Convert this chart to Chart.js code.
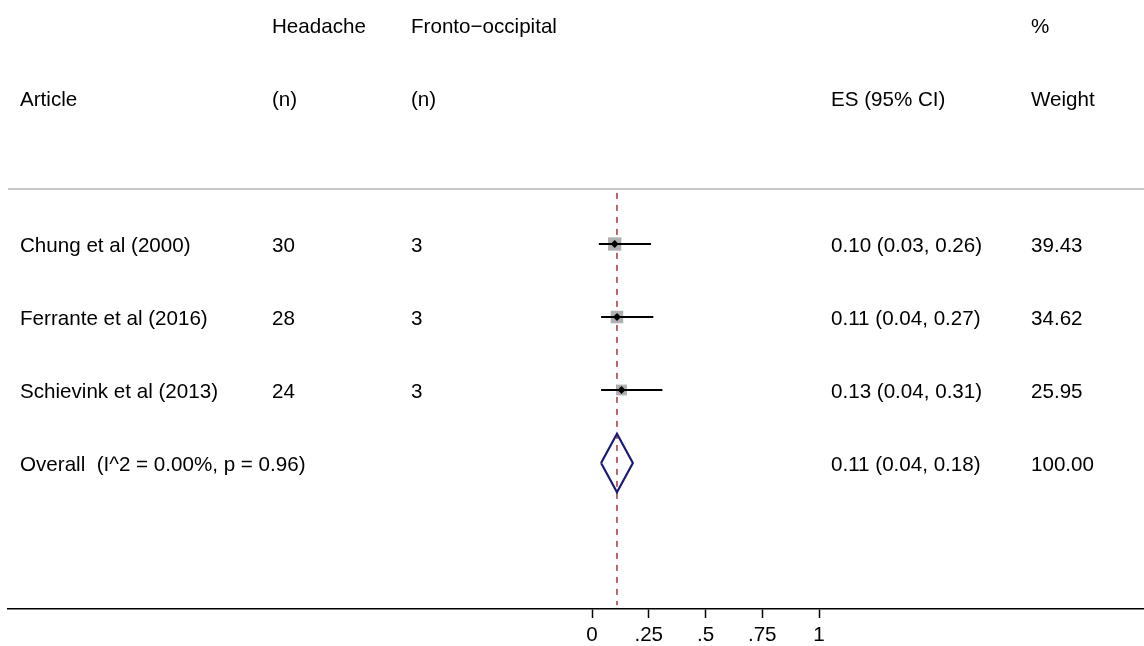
<!DOCTYPE html>
<html>
<head>
<meta charset="utf-8">
<script src="https://cdn.jsdelivr.net/npm/chart.js@4/dist/chart.umd.min.js"></script>
<style>
  html, body { margin: 0; padding: 0; background: #fff; overflow: hidden; }
  #wrap { width: 1144px; height: 646px; }
  canvas { display: block; }
</style>
</head>
<body>
<div id="wrap"><canvas id="forest"></canvas></div>
<script>
// study data
const studies = ['Chung et al (2000)', 'Ferrante et al (2016)', 'Schievink et al (2013)'];
const headacheN = [30, 28, 24];
const frontoN = [3, 3, 3];
const es = [0.10, 0.11, 0.13];
const lower = [0.03, 0.04, 0.04];
const upper = [0.26, 0.27, 0.31];
const weights = [39.43, 34.62, 25.95];

const overallLabel = 'Overall  (I^2 = 0.00%, p = 0.96)';
const overallEs = 0.11;
const overallLower = 0.04;
const overallUpper = 0.18;
const overallWeight = 100.00;

const tickValues = [0, 0.25, 0.5, 0.75, 1];
const tickLabels = ['0', '.25', '.5', '.75', '1'];

// rows: 0,1 header, 3.. studies, overall after
const firstRow = 3;
const overallRow = firstRow + studies.length;

const fmt = v => v.toFixed(2);
const esText = (e, l, u) => `${fmt(e)} (${fmt(l)}, ${fmt(u)})`;

const fontFamily = '"Liberation Sans", Arial, Helvetica, sans-serif';

// text columns (pixel x of left edge)
const columns = { article: 20, headache: 272, fronto: 411, es: 831, weight: 1031 };

const textPlugin = {
    id: 'forestText',
    afterDraw(chart) {
        const ctx = chart.ctx;
        const y = chart.scales.y;
        ctx.save();
        ctx.fillStyle = '#000';
        ctx.font = `20.6px ${fontFamily}`;
        ctx.textBaseline = 'alphabetic';
        ctx.textAlign = 'left';
        // center of cap height on the row
        const put = (txt, col, row) => ctx.fillText(txt, columns[col], y.getPixelForValue(row) + 7.5);

        put('Headache', 'headache', 0);
        put('Fronto\u2212occipital', 'fronto', 0);
        put('%', 'weight', 0);
        put('Article', 'article', 1);
        put('(n)', 'headache', 1);
        put('(n)', 'fronto', 1);
        put('ES (95% CI)', 'es', 1);
        put('Weight', 'weight', 1);

        studies.forEach((s, i) => {
            const r = firstRow + i;
            put(s, 'article', r);
            put(String(headacheN[i]), 'headache', r);
            put(String(frontoN[i]), 'fronto', r);
            put(esText(es[i], lower[i], upper[i]), 'es', r);
            put(fmt(weights[i]), 'weight', r);
        });
        put(overallLabel, 'article', overallRow);
        put(esText(overallEs, overallLower, overallUpper), 'es', overallRow);
        put(fmt(overallWeight), 'weight', overallRow);
        ctx.restore();
    }
};

// x scale: 0 -> 592px, 1 -> 819px over a 8..1144 chart area
const pxPerUnit = 227;
const xMin = (8 - 592) / pxPerUnit;
const xMax = (1144 - 592) / pxPerUnit;
// y scale: rows, row 0 at 25px, 73px per row, axis at row 8
const yMin = -25 / 73;
const yMax = 8;

const datasets = [];

// separator line under header
datasets.push({
    type: 'line',
    data: [{ x: xMin, y: 2.245 }, { x: xMax, y: 2.245 }],
    borderColor: '#c8c8c8',
    borderWidth: 2,
    pointRadius: 0,
    order: 5
});

// reference line at overall estimate
datasets.push({
    type: 'line',
    data: [{ x: overallEs, y: 2.3 }, { x: overallEs, y: 7.95 }],
    borderColor: '#a8323f',
    borderWidth: 1.5,
    borderDash: [6, 6],
    pointRadius: 0,
    order: 4
});

// weight squares
datasets.push({
    type: 'scatter',
    data: studies.map((s, i) => ({ x: es[i], y: firstRow + i })),
    pointStyle: 'rect',
    pointRadius: weights.map(w => 1.5 * Math.sqrt(w)),
    backgroundColor: '#b0b0b0',
    borderWidth: 0,
    order: 3
});

// confidence intervals
studies.forEach((s, i) => {
    datasets.push({
        type: 'line',
        data: [{ x: lower[i], y: firstRow + i }, { x: upper[i], y: firstRow + i }],
        borderColor: '#000',
        borderWidth: 2.2,
        pointRadius: 0,
        order: 2
    });
});

// point estimates
datasets.push({
    type: 'scatter',
    data: studies.map((s, i) => ({ x: es[i], y: firstRow + i })),
    pointStyle: 'rectRot',
    pointRadius: 4,
    backgroundColor: '#000',
    borderColor: '#000',
    borderWidth: 0,
    order: 1
});

// overall diamond
datasets.push({
    type: 'line',
    data: [
        { x: overallLower, y: overallRow },
        { x: overallEs, y: overallRow - 0.4 },
        { x: overallUpper, y: overallRow },
        { x: overallEs, y: overallRow + 0.4 },
        { x: overallLower, y: overallRow }
    ],
    borderColor: '#1a1a78',
    borderWidth: 2.2,
    borderJoinStyle: 'miter',
    pointRadius: 0,
    tension: 0,
    order: 0
});

new Chart(document.getElementById('forest'), {
    type: 'scatter',
    data: { datasets: datasets },
    options: {
        responsive: true,
        maintainAspectRatio: false,
        animation: false,
        layout: { autoPadding: false, padding: { left: 8, right: 0, top: 0, bottom: 0 } },
        plugins: {
            legend: { display: false },
            tooltip: { enabled: false }
        },
        scales: {
            x: {
                type: 'linear',
                min: xMin,
                max: xMax,
                afterBuildTicks: axis => {
                    axis.ticks = tickValues.map(v => ({ value: v }));
                },
                afterFit: axis => {
                    axis.height = 37;
                },
                grid: {
                    drawOnChartArea: false,
                    drawTicks: true,
                    tickLength: 9,
                    color: '#000',
                    tickWidth: 1.5
                },
                border: { display: true, color: '#000', width: 1.5 },
                ticks: {
                    autoSkip: false,
                    maxRotation: 0,
                    padding: 5,
                    color: '#000',
                    font: { family: fontFamily, size: 20.6 },
                    callback: v => {
                        const i = tickValues.indexOf(v);
                        return i >= 0 ? tickLabels[i] : '';
                    }
                }
            },
            y: {
                type: 'linear',
                display: false,
                reverse: true,
                min: yMin,
                max: yMax
            }
        }
    },
    plugins: [textPlugin]
});
</script>
</body>
</html>
